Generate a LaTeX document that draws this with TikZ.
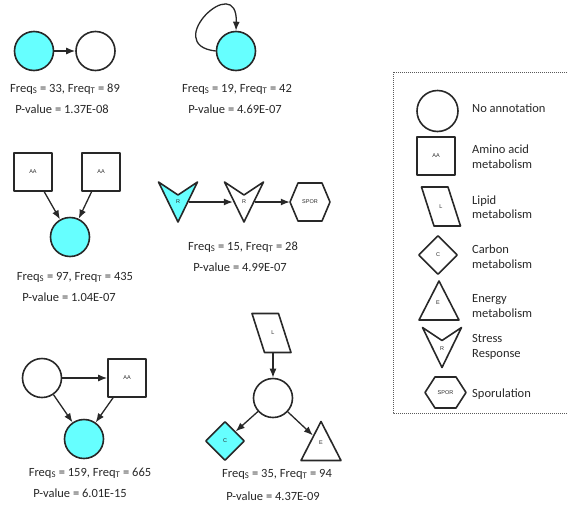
\documentclass[tikz,border=0pt]{standalone}
\usepackage{fontspec}
\setmainfont{Carlito}
\newfontfamily\tinyf{Liberation Sans}
\usetikzlibrary{shapes.geometric,arrows.meta}
\definecolor{cyanfill}{RGB}{102,255,255}
\definecolor{ink}{RGB}{40,40,40}
\definecolor{boxgray}{RGB}{90,90,90}
\begin{document}
\begin{tikzpicture}[x=1pt,y=-1pt,
  shp/.style={draw=ink,line width=1.6pt,line join=round},
  tag/.style={inner sep=0pt,font=\tinyf\fontsize{5.5}{6}\selectfont,text=ink},
  circ/.style={shp,circle,minimum size=39pt,inner sep=0pt},
  sqr/.style={shp,rectangle,minimum size=38pt,inner sep=0pt,font=\tinyf\fontsize{5.5}{6}\selectfont,text=ink},
  dia/.style={shp,diamond,minimum width=39pt,minimum height=39pt,inner sep=0pt,font=\tinyf\fontsize{5.5}{6}\selectfont,text=ink},
  cyanf/.style={fill=cyanfill},
  arr/.style={draw=ink,line width=1.3pt,-{Latex[length=9pt,width=7pt]}},
  lbl/.style={font=\fontsize{12.5}{15}\selectfont,inner sep=0pt,anchor=base,text=ink},
  leg/.style={font=\fontsize{12.5}{15}\selectfont,inner sep=0pt,anchor=base west,text=ink},
  legbox/.style={draw=boxgray,line width=0.8pt,dash pattern=on 1pt off 1pt},
  stress/.pic={\draw[shp,pic actions] (-19.5,-20) -- (0,-7) -- (19.5,-20) -- (0,20) -- cycle;},
  hexbig/.pic={\draw[shp,pic actions] (-20,0) -- (-12,-19) -- (12,-19) -- (20,0) -- (12,19) -- (-12,19) -- cycle;},
  hexsmall/.pic={\draw[shp,pic actions] (-20.5,0) -- (-10.5,-15.5) -- (10.5,-15.5) -- (20.5,0) -- (10.5,15.5) -- (-10.5,15.5) -- cycle;},
  para/.pic={\draw[shp,pic actions] (-19.5,-19.5) -- (7,-19.5) -- (19.5,19.5) -- (-7,19.5) -- cycle;},
  tri/.pic={\draw[shp,pic actions] (0,-19.5) -- (20,19.5) -- (-20,19.5) -- cycle;}
]
\useasboundingbox (0,0) rectangle (568,504);

% ---------- motif 1 ----------
\node[circ,cyanf] (a1) at (34,51) {};
\node[circ] (a2) at (95.5,51) {};
\draw[arr] (a1) -- (a2);
\node[lbl] (a1f) at (65,92) {Freq\textsubscript{S} = 33, Freq\textsubscript{T} = 89};
\node[lbl] (a1p) at (62,113) {P-value = 1.37E-08};

% ---------- motif 2 ----------
\node[circ,cyanf] (b1) at (236,51) {};
\draw[arr] (b1.west) .. controls (160,45) and (238,-30) .. (b1.north);
\node[lbl] (b1f) at (237,92) {Freq\textsubscript{S} = 19, Freq\textsubscript{T} = 42};
\node[lbl] (b1p) at (235,113) {P-value = 4.69E-07};

% ---------- motif 3 ----------
\node[sqr] (c1) at (33,172) {AA};
\node[sqr] (c2) at (101,172) {AA};
\node[circ,cyanf] (c3) at (70,237) {};
\draw[arr] (c1) -- (c3);
\draw[arr] (c2) -- (c3);
\node[lbl] (c3f) at (75,280) {Freq\textsubscript{S} = 97, Freq\textsubscript{T} = 435};
\node[lbl] (c3p) at (69,301) {P-value = 1.04E-07};

% ---------- motif 4 ----------
\pic[fill=cyanfill] at (178,202) {stress};
\node[tag,minimum width=22pt,minimum height=30pt] (d1) at (178,202) {R};
\pic at (244,202) {stress};
\node[tag,minimum width=22pt,minimum height=30pt] (d2) at (244,202) {R};
\pic at (310,202) {hexbig};
\node[tag,minimum width=40pt,minimum height=30pt] (d3) at (310,202) {SPOR};
\draw[arr] (d1) -- (d2);
\draw[arr] (d2) -- (d3);
\node[lbl] (d3f) at (243,250) {Freq\textsubscript{S} = 15, Freq\textsubscript{T} = 28};
\node[lbl] (d3p) at (240,271) {P-value = 4.99E-07};

% ---------- motif 5 ----------
\node[circ] (e1) at (42,378) {};
\node[sqr] (e2) at (127,378) {AA};
\node[circ,cyanf] (e3) at (84,439) {};
\draw[arr] (e1) -- (e2);
\draw[arr] (e1) -- (e3);
\draw[arr] (e2) -- (e3);
\node[lbl] (e3f) at (90,476) {Freq\textsubscript{S} = 159, Freq\textsubscript{T} = 665};
\node[lbl] (e3p) at (80,497) {P-value = 6.01E-15};

% ---------- motif 6 ----------
\pic at (271.5,333) {para};
\node[tag,minimum width=20pt,minimum height=38pt] (f1) at (273,333) {L};
\node[circ] (f2) at (273,398) {};
\node[dia,cyanf] (f3) at (225,441) {C};
\pic at (321,441) {tri};
\node[tag,circle,minimum size=22pt] (f4) at (321,443) {E};
\draw[arr] (f1) -- (f2);
\draw[arr] (f2) -- (f3);
\draw[arr] (f2) -- (f4);
\node[lbl] (f4f) at (277,477) {Freq\textsubscript{S} = 35, Freq\textsubscript{T} = 94};
\node[lbl] (f4p) at (273,500) {P-value = 4.37E-09};

% ---------- legend ----------
\draw[legbox] (393,72) rectangle (572,413);
\node[circ,minimum size=41pt] (g1) at (437.5,111) {};
\node[leg] (g1t) at (472,112) {No annotation};
\node[sqr] (g2) at (436,156) {AA};
\node[leg] (g2t) at (472,153) {Amino acid};
\node[leg] (g2u) at (472,168) {metabolism};
\pic at (441,206.5) {para};
\node[tag] (g3) at (441,207) {L};
\node[leg] (g3t) at (472,204) {Lipid};
\node[leg] (g3u) at (472,218) {metabolism};
\node[dia] (g4) at (438,255) {C};
\node[leg] (g4t) at (472,253) {Carbon};
\node[leg] (g4u) at (472,268) {metabolism};
\pic at (439,300.5) {tri};
\node[tag] (g5) at (438,303) {E};
\node[leg] (g5t) at (472,302) {Energy};
\node[leg] (g5u) at (472,317) {metabolism};
\pic at (442,347.5) {stress};
\node[tag] (g6) at (442,349) {R};
\node[leg] (g6t) at (472,342) {Stress};
\node[leg] (g6u) at (472,357) {Response};
\pic at (445.5,392.5) {hexsmall};
\node[tag] (g7) at (445.5,393) {SPOR};
\node[leg] (g7t) at (472,397) {Sporulation};
\end{tikzpicture}
\end{document}
